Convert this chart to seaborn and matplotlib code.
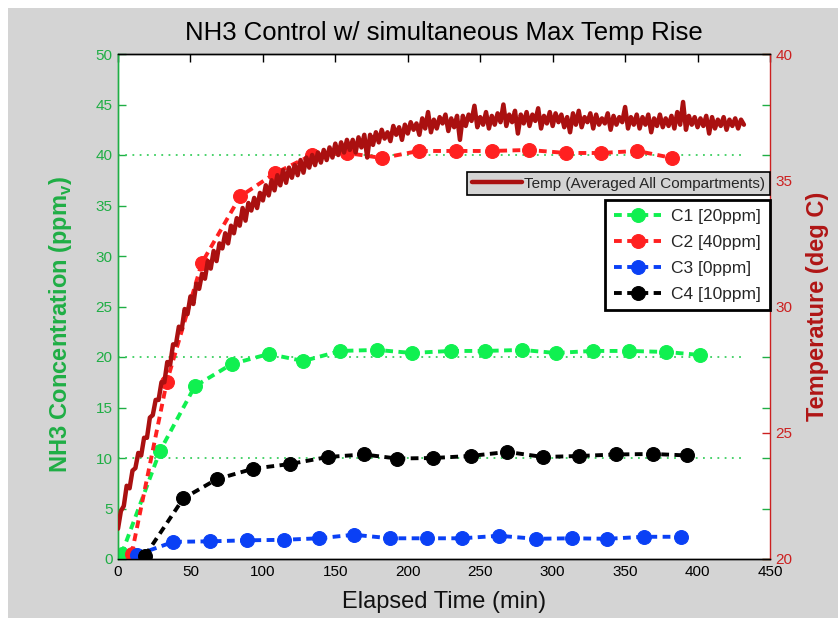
import numpy as np
import matplotlib
matplotlib.use("Agg")
import matplotlib.pyplot as plt
import seaborn as sns
from matplotlib.patches import Rectangle

# ---- NH3 concentration per compartment (ppmv) ----
c1_minutes = [2.5, 29, 53, 78.5, 104, 128, 153.5, 178.5, 203, 229.5, 253.5, 279, 302, 327.5, 352.5, 378, 402]
c1_ppm = [0.5, 10.7, 17.1, 19.3, 20.3, 19.6, 20.6, 20.7, 20.4, 20.6, 20.6, 20.7, 20.4, 20.6, 20.6, 20.5, 20.2]

c2_minutes = [9.4, 33.6, 57.8, 84.3, 108.5, 133.9, 158, 182.3, 207.6, 233, 258.2, 283.5, 309, 333.2, 358.5, 382.7]
c2_ppm = [0.5, 17.5, 29.3, 35.9, 38.2, 40.0, 40.2, 39.7, 40.4, 40.4, 40.4, 40.5, 40.2, 40.2, 40.4, 39.7]

c3_minutes = [12.9, 38.2, 63.6, 89, 114.3, 138.5, 162.7, 188, 213.3, 237.5, 262.9, 288.2, 313.6, 337.8, 363.1, 388.4]
c3_ppm = [0.4, 1.7, 1.75, 1.85, 1.9, 2.05, 2.4, 2.05, 2.05, 2.05, 2.3, 2.0, 2.05, 2.0, 2.2, 2.2]

c4_minutes = [18.7, 45.1, 68.2, 93.5, 118.6, 144.7, 169.6, 192.6, 217.5, 243.3, 268.7, 293.5, 318.2, 344, 369.3, 393]
c4_ppm = [0.33, 6.0, 7.9, 8.95, 9.4, 10.1, 10.35, 9.95, 10.0, 10.2, 10.6, 10.1, 10.2, 10.35, 10.4, 10.25]

series_labels = ["C1 [20ppm]", "C2 [40ppm]", "C3 [0ppm]", "C4 [10ppm]"]
target_levels = [10, 20, 40, 50]

# ---- temperature averaged over all compartments (deg C), logged every 2 min ----
temp_step_min = 2
temp_c = [
    21.2, 21.9, 22.1, 22.9, 22.8, 23.5, 23.6, 24.2, 24.1, 24.8,
    24.8, 25.6, 25.7, 26.3, 26.3, 27.0, 27.0, 27.8, 27.7, 28.5,
    28.5, 29.2, 29.1, 29.9, 29.7, 30.4, 30.1, 30.9, 30.7, 31.3,
    31.1, 31.8, 31.5, 32.2, 31.8, 32.5, 32.3, 32.9, 32.5, 33.2,
    32.9, 33.5, 33.2, 33.9, 33.4, 34.1, 33.8, 34.3, 33.9, 34.5,
    34.2, 34.8, 34.4, 35.0, 34.6, 35.2, 34.8, 35.4, 34.9, 35.5,
    35.1, 35.6, 35.2, 35.8, 35.3, 35.9, 35.5, 36.0, 35.6, 36.1,
    35.7, 36.2, 35.8, 36.3, 35.9, 36.45, 36.0, 36.5, 36.1, 36.6,
    36.2, 36.6, 36.1, 36.7, 36.3, 36.8, 35.9, 36.8, 36.4, 36.9,
    36.5, 37.0, 36.65, 36.9, 36.55, 37.15, 36.8, 37.1, 36.6, 37.2,
    36.85, 37.3, 37.0, 37.25, 36.8, 37.45, 37.05, 37.7, 36.9, 37.4,
    37.05, 37.5, 37.25, 37.6, 36.95, 37.45, 37.1, 37.55, 36.6, 37.55,
    37.15, 37.6, 37.35, 37.95, 37.1, 37.5, 37.2, 37.7, 37.05, 37.55,
    37.2, 37.65, 37.3, 38.0, 37.15, 37.6, 37.3, 37.75, 36.85, 37.6,
    37.25, 37.7, 37.15, 37.6, 37.35, 37.85, 37.05, 37.55, 37.25, 37.7,
    37.15, 37.65, 37.3, 37.6, 37.1, 37.5, 36.9, 37.65, 37.2, 37.75,
    37.1, 37.5, 37.3, 37.65, 37.05, 37.6, 37.2, 37.45, 37.25, 37.65,
    37.0, 37.55, 37.2, 37.5, 37.3, 37.9, 37.05, 37.5, 37.2, 37.6,
    37.05, 37.5, 37.2, 37.6, 36.9, 37.45, 37.15, 37.6, 37.1, 37.45,
    37.15, 37.55, 37.05, 37.7, 37.2, 38.1, 37.0, 37.55, 37.2, 37.5,
    37.1, 37.45, 37.15, 37.55, 36.85, 37.5, 37.05, 37.4, 37.15, 37.5,
    37.0, 37.4, 37.15, 37.45, 37.05, 37.4, 37.2,
]
temp_minutes = np.arange(len(temp_c)) * temp_step_min
temp_label = "Temp (Averaged All Compartments)"

# ---- styling ----
sns.set_theme(style="white")
plt.rcParams["font.family"] = ["Liberation Sans", "DejaVu Sans"]

GREEN_AX = "#1fae45"
RED_AX = "#cc2020"
TEMP_RED = "#aa1010"
series_colors = ["#10f050", "#ff2020", "#0a40f5", "#000000"]

W, H = 838, 625
fig = plt.figure(figsize=(W / 100, H / 100), dpi=100, facecolor="white")
fig.patches.append(Rectangle((8 / W, 7 / H), 1 - 8 / W, 1 - 15 / H,
                             transform=fig.transFigure, facecolor="#d4d4d4",
                             edgecolor="none", zorder=-10))

left, right, top, bottom = 118, 770, 54, 559
ax1 = fig.add_axes([left / W, 1 - bottom / H, (right - left) / W, (bottom - top) / H])
ax1.set_facecolor("white")
ax2 = ax1.twinx()

# target reference levels
for lvl in target_levels:
    ax1.plot([0, 432], [lvl, lvl], linestyle=(0, (1, 3)), color="#3ccf60",
             linewidth=1.3, zorder=1)

xs = [c1_minutes, c2_minutes, c3_minutes, c4_minutes]
ys = [c1_ppm, c2_ppm, c3_ppm, c4_ppm]
handles = []
for x, y, col in zip(xs, ys, series_colors):
    sns.lineplot(x=x, y=y, ax=ax1, color=col, marker="o", markersize=10,
                 markeredgecolor=col, linewidth=2.8, estimator=None, sort=False,
                 zorder=3)
    ln = ax1.lines[-1]
    ln.set_dashes((2.0, 1.4))
    handles.append(ln)

sns.lineplot(x=temp_minutes, y=temp_c, ax=ax2, color=TEMP_RED, linewidth=3.2,
             estimator=None, sort=False, zorder=4)
temp_line = ax2.lines[-1]

ax1.set_xlim(0, 450)
ax1.set_ylim(0, 50)
ax2.set_ylim(20, 40)
ax1.set_xticks(range(0, 451, 50))
ax1.set_yticks(range(0, 51, 5))
ax2.set_yticks(range(20, 41, 5))

for lab in ax1.get_xticklabels() + ax1.get_yticklabels() + ax2.get_yticklabels():
    lab.set_fontsize(11)

ax1.tick_params(axis="x", colors="black", direction="in", length=6, top=True,
                width=1, pad=4)
ax1.tick_params(axis="y", colors=GREEN_AX, direction="in", length=6, right=True,
                width=1, pad=4)
ax2.tick_params(axis="y", colors=RED_AX, direction="in", length=6, width=1, pad=4)

for sp in ["top", "bottom"]:
    ax1.spines[sp].set_color("black")
    ax2.spines[sp].set_color("black")
ax1.spines["left"].set_color(GREEN_AX)
ax2.spines["left"].set_color(GREEN_AX)
ax1.spines["right"].set_visible(False)
ax2.spines["right"].set_color(RED_AX)
for a in (ax1, ax2):
    for sp in a.spines.values():
        sp.set_linewidth(1.0)

ax1.set_title("NH3 Control w/ simultaneous Max Temp Rise", fontsize=18.5,
              color="black", pad=10)
ax1.set_xlabel("Elapsed Time (min)", fontsize=17, color="#111111", labelpad=9)
ax1.set_ylabel(r"NH3 Concentration (ppm$_\mathregular{v}$)", fontsize=17,
               color=GREEN_AX, fontweight="bold")
ax1.yaxis.set_label_coords(-0.067, 0.465)
ax2.set_ylabel("Temperature (deg C)", fontsize=17, color="#b01515",
               fontweight="bold", labelpad=10)

# legends on the twin axes so they sit above every trace
leg_temp = ax2.legend([temp_line], [temp_label], loc="upper right",
                      bbox_to_anchor=(right / W, 1 - 172 / H),
                      bbox_transform=fig.transFigure, borderaxespad=0,
                      fontsize=11, frameon=True, fancybox=False,
                      facecolor="#d4d4d4", edgecolor="black", framealpha=1,
                      handlelength=3.3, borderpad=0.3, handletextpad=0.15)
leg_temp.get_frame().set_linewidth(1.2)
ax2.add_artist(leg_temp)

leg_c = ax2.legend(handles, series_labels, loc="upper right",
                   bbox_to_anchor=(right / W, 1 - 200 / H),
                   bbox_transform=fig.transFigure, borderaxespad=0,
                   fontsize=12.5, frameon=True, fancybox=False,
                   facecolor="white", edgecolor="black", framealpha=1,
                   handlelength=2.7, numpoints=1, labelspacing=0.62,
                   borderpad=0.5, handletextpad=0.6)
leg_c.get_frame().set_linewidth(2.0)

fig.savefig("out.png", dpi=100, facecolor=fig.get_facecolor())
